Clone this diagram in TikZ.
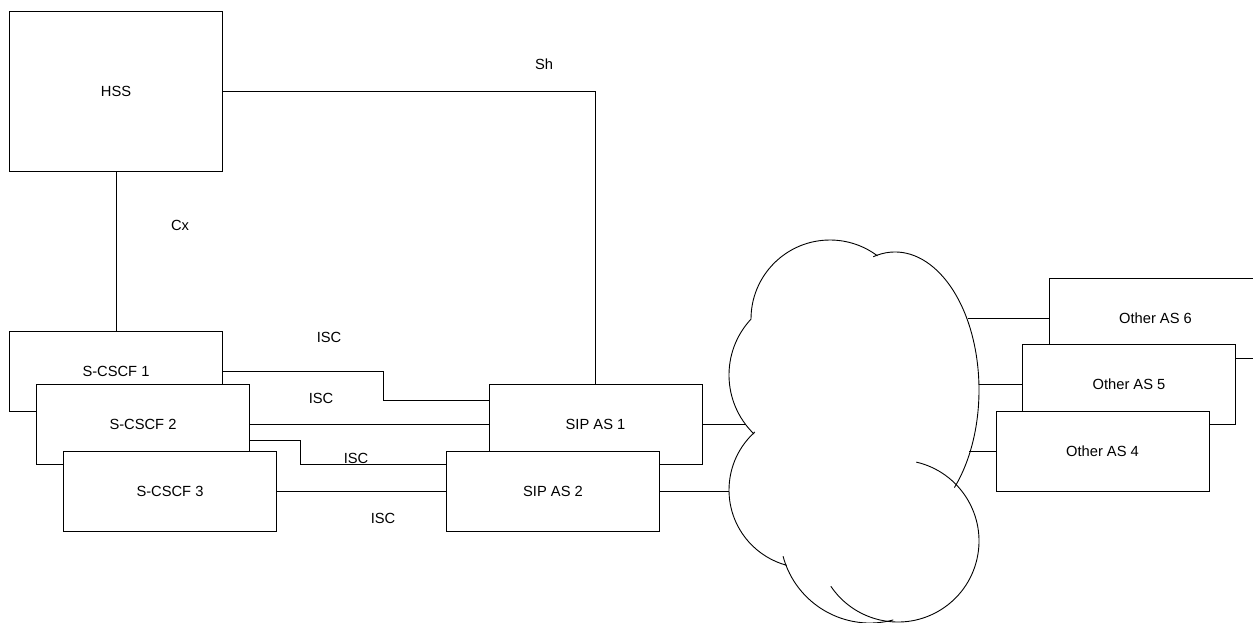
\documentclass[tikz,border=0pt]{standalone}
\usepackage{fontspec}
\setmainfont{Liberation Sans}
\tikzset{
  unit/.style={draw, fill=white, line width=0.9pt, minimum width=213pt, minimum height=80pt, inner sep=0pt},
  link/.style={line width=0.9pt},
}

\begin{document}
\begin{tikzpicture}[x=1pt, y=-1pt, font=\fontsize{14.7}{17}\selectfont]
        \clip (0,0) rectangle (1253,622);

        \node[unit, minimum height=160pt] (hss) at (116,91) {HSS};
        \foreach \i/\x/\y in {1/116/371, 2/143/424, 3/170/491}
          \node[unit] (cscf\i) at (\x,\y) {S-CSCF \i};
        \node[unit] (sipas1) at (595.5,424) {SIP AS 1};
        \node[unit] (sipas2) at (553,491) {SIP AS 2};
        \foreach \i/\x/\y in {6/1155.5/318, 5/1129/384, 4/1102.5/451}
          \node[unit] (other\i) at (\x,\y) {Other AS \i};

        % cloud
        \draw[link] ([shift={(180:79)}]830,319) arc[start angle=180, end angle=307, radius=79];
        \draw[link] ([shift={(255:84 and 138)}]895,390) arc[start angle=255, end angle=405, x radius=84, y radius=138];
        \draw[link] ([shift={(223:82)}]811,375) arc[start angle=223, end angle=134, radius=82];
        \draw[link] ([shift={(228:78)}]807,490) arc[start angle=228, end angle=105, radius=78];
        \draw[link] ([shift={(165:90)}]870,533) arc[start angle=165, end angle=75, radius=90];
        \draw[link] ([shift={(283:81)}]898,541) arc[start angle=283, end angle=506, radius=81];

        \coordinate (cloud1) at (745,424);
        \coordinate (cloud2) at (729,491);
        \coordinate (cloud6) at (968,318);
        \coordinate (cloud5) at (979,384);
        \coordinate (cloud4) at (969,451);

        \draw[link] (hss.south) -- (cscf1.north);
        \draw[link] (hss.east) -| (sipas1.north);
        \draw[link] (cscf1.east) -- ++(160,0) |- ([yshift=24pt]sipas1.west);
        \draw[link] (cscf2.east) -- (sipas1.west);
        \draw[link] ([yshift=-16pt]cscf2.east) -- ++(50,0) |- ([yshift=27pt]sipas2.west);
        \draw[link] (cscf3.east) -- (sipas2.west);
        \draw[link] (sipas1.east) -- (cloud1);
        \draw[link] (sipas2.east) -- (cloud2);
        \foreach \i in {6,5,4}
          \draw[link] (cloud\i) -- (other\i.west);

        \node (sh) at (544,64) {Sh};
        \node (cx) at (180,225) {Cx};
        \node (isc1) at (329,337) {ISC};
        \node (isc2) at (321,398) {ISC};
        \node (isc3) at (356,458) {ISC};
        \node (isc4) at (383,518) {ISC};
    \end{tikzpicture}
\end{document}
